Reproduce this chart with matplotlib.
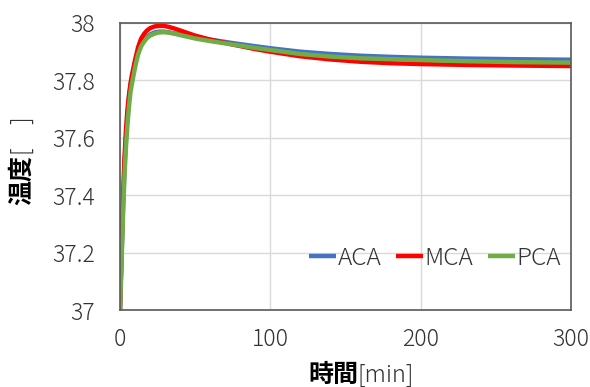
import matplotlib
matplotlib.use("Agg")
import matplotlib.pyplot as plt

plt.rcParams['font.family'] = ['Noto Sans CJK JP', 'DejaVu Sans']

time = [0, 1, 2, 3, 4, 5, 6, 7, 8, 10, 12, 14, 16, 18, 20, 23, 26, 29, 32, 36, 40, 45, 50, 60, 75, 90, 100, 120, 140, 160, 180, 200, 230, 260, 300]
aca = [37.0, 37.18, 37.36, 37.50, 37.60, 37.68, 37.74, 37.78, 37.81, 37.86, 37.90, 37.925, 37.94, 37.952, 37.96, 37.967, 37.97, 37.97, 37.968, 37.964, 37.96, 37.955, 37.95, 37.942, 37.93, 37.919, 37.912, 37.9, 37.892, 37.886, 37.882, 37.879, 37.876, 37.874, 37.872]
mca = [37.0, 37.2, 37.39, 37.53, 37.63, 37.70, 37.75, 37.79, 37.82, 37.87, 37.915, 37.945, 37.962, 37.974, 37.982, 37.988, 37.99, 37.99, 37.987, 37.981, 37.974, 37.965, 37.956, 37.942, 37.925, 37.909, 37.90, 37.884, 37.873, 37.865, 37.86, 37.857, 37.854, 37.852, 37.85]
pca = [37.0, 37.16, 37.33, 37.47, 37.57, 37.65, 37.71, 37.76, 37.79, 37.845, 37.89, 37.918, 37.935, 37.948, 37.956, 37.963, 37.967, 37.968, 37.967, 37.963, 37.958, 37.952, 37.946, 37.937, 37.925, 37.913, 37.906, 37.892, 37.883, 37.877, 37.874, 37.871, 37.867, 37.864, 37.862]

series = [("ACA", aca, "#4472C4"), ("MCA", mca, "#FF0000"), ("PCA", pca, "#70AD47")]

fig = plt.figure(figsize=(5.9, 3.87), dpi=100)
ax = fig.add_axes([120/590, 1-310/387, 451/590, 287/387])

for name, vals, col in series:
    ax.plot(time, vals, color=col, lw=3.2, label=name, solid_capstyle='butt')

ax.set_xlim(0, 300)
ax.set_ylim(37, 38)
ax.set_xticks([0, 100, 200, 300])
ax.set_yticks([37, 37.2, 37.4, 37.6, 37.8, 38])
ax.set_yticklabels(["37", "37.2", "37.4", "37.6", "37.8", "38"])
ax.grid(True, color="#d9d9d9", lw=1)
ax.set_axisbelow(True)
ax.tick_params(length=0, labelsize=16.5, colors="#333333")
ax.tick_params(axis='y', pad=18)
ax.tick_params(axis='x', pad=12)
for lab in ax.get_xticklabels() + ax.get_yticklabels():
    lab.set_fontweight('light')
for s in ax.spines.values():
    s.set_color("#595959")
    s.set_linewidth(1.2)

leg = ax.legend(loc='center right', bbox_to_anchor=(1.0 - 10/451, 0.18), ncol=3, frameon=False,
                fontsize=17.5, handlelength=1.1, handletextpad=0.08, columnspacing=0.6,
                borderpad=0.0, borderaxespad=0.0)
for t in leg.get_texts():
    t.set_color("#333333")
    t.set_fontweight('light')

fig.text(358/590, 1-375/387, "時間", fontsize=18, fontweight='bold', ha='right', va='center')
fig.text(358/590, 1-375/387, "[min]", fontsize=17, fontweight='light', ha='left', va='center', color="#333333")
fig.text(22/590, 1-155/387, "温度", fontsize=18, fontweight='bold', rotation=90, ha='center', va='top')
fig.text(22/590, 1-155/387, "[　]", fontsize=17, fontweight='light', rotation=90, ha='center', va='bottom', color="#333333")

fig.savefig("out.png", dpi=100)
